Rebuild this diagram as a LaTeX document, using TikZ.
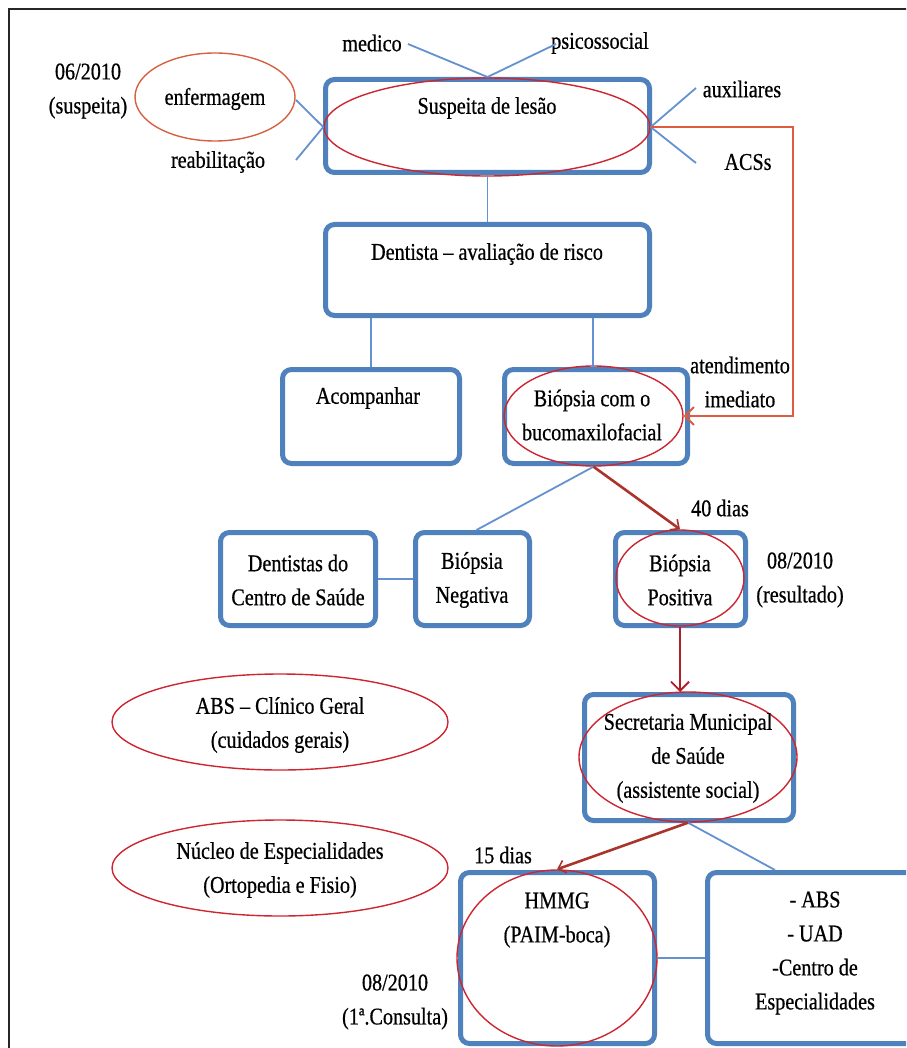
\documentclass[tikz,border=0pt]{standalone}
\usepackage{fontspec}
\setmainfont{Liberation Serif}[FakeStretch=0.84,FakeBold=0.6]
\usetikzlibrary{shapes.geometric,arrows.meta}
\definecolor{boxblue}{RGB}{79,129,189}
\definecolor{linkblue}{RGB}{100,145,208}
\definecolor{ovred}{RGB}{205,38,48}
\definecolor{ovorange}{RGB}{214,96,66}
\definecolor{loopred}{RGB}{222,92,62}
\definecolor{flowred}{RGB}{170,52,42}
\tikzset{
  stepbox/.style={draw=boxblue, line width=5pt, rounded corners=9pt, inner sep=0pt},
  oval/.style={ellipse, draw=ovred, line width=1.4pt, inner sep=0pt},
  link/.style={draw=linkblue, line width=1.8pt},
  flow/.style={draw=flowred, line width=2.6pt, -{Straight Barb[length=7pt,width=13pt,line width=1.6pt]}},
  loop/.style={draw=loopred, line width=1.8pt, -{Straight Barb[length=9pt,width=18pt,line width=1.8pt]}},
  tx/.style={align=center, inner sep=0pt, text=black, font=\fontsize{24}{34}\selectfont},
}
\begin{document}
\begin{tikzpicture}[x=1pt,y=-1pt]
\useasboundingbox (0,0) rectangle (906,1048);
\clip (0,0) rectangle (906,1048);

% outer frame (cut at the right and bottom)
\draw[black!85, line width=2.5pt] (9,1060) -- (9,9) -- (920,9);

% ---------- boxes ----------
\node[stepbox, minimum width=324pt, minimum height=93pt] (sus)   at (487.5,126) {};
\node[stepbox, minimum width=324pt, minimum height=91pt] (dent)  at (487.5,270) {};
\node[stepbox, minimum width=177pt, minimum height=94pt] (acomp) at (371,416.5) {};
\node[stepbox, minimum width=183pt, minimum height=94pt] (biop)  at (596,416.5) {};
\node[stepbox, minimum width=155pt, minimum height=93pt] (dcs)   at (298,579) {};
\node[stepbox, minimum width=114pt, minimum height=93pt] (bneg)  at (472.5,579) {};
\node[stepbox, minimum width=130pt, minimum height=93pt] (bpos)  at (680.5,579) {};
\node[stepbox, minimum width=209pt, minimum height=126pt] (sec)  at (689,757.5) {};
\node[stepbox, minimum width=194pt, minimum height=171pt] (hmmg) at (557.5,958) {};
\node[stepbox, minimum width=220pt, minimum height=171pt] (rbox) at (817.5,958) {};

% ---------- ovals ----------
\node[oval, minimum width=326pt, minimum height=98pt]  (susE)  at (487,127) {};
\node[oval, draw=ovorange, minimum width=160pt, minimum height=88pt] (enfE) at (215,97) {};
\node[oval, minimum width=179pt, minimum height=100pt] (biopE) at (593.5,416) {};
\node[oval, minimum width=128pt, minimum height=96pt]  (bposE) at (680,578) {};
\node[oval, minimum width=218pt, minimum height=130pt] (secE)  at (688,757) {};
\node[oval, minimum width=336pt, minimum height=96pt]  (absE)  at (280,722) {};
\node[oval, minimum width=336pt, minimum height=96pt]  (nucE)  at (280,868) {};
\node[oval, minimum width=200pt, minimum height=176pt] (hmmgE) at (557,958) {};

% ---------- texts ----------
\node[tx] (t0610) at (88,91) {06/2010\\(suspeita)};
\node[tx] (tenf)  at (215,99) {enfermagem};
\node[tx] (treab) at (218,162) {reabilitação};
\node[tx] (tmed)  at (372,43) {medico};
\node[tx] (tpsi)  at (600,43) {psicossocial};
\node[tx] (taux)  at (742,89) {auxiliares};
\node[tx] (tacs)  at (748,162) {ACSs};
\node[tx] (tsus)  at (487,108) {Suspeita de lesão};
\node[tx] (tdent) at (487,254) {Dentista – avaliação de risco};
\node[tx] (tacom) at (368,398) {Acompanhar};
\node[tx] (tbiop) at (592,415) {Biópsia com o\\bucomaxilofacial};
\node[tx] (tate)  at (740,382) {atendimento\\imediato};
\node[tx] (t40)   at (720,508) {40 dias};
\node[tx] (tdcs)  at (298,580) {Dentistas do\\Centro de Saúde};
\node[tx] (tneg)  at (472,580) {Biópsia\\Negativa};
\node[tx] (tpos)  at (680,580) {Biópsia\\Positiva};
\node[tx] (tres)  at (800,580) {08/2010\\(resultado)};
\node[tx] (tabs)  at (280,725) {ABS – Clínico Geral\\(cuidados gerais)};
\node[tx] (tnuc)  at (280,870) {Núcleo de Especialidades\\(Ortopedia e Fisio)};
\node[tx] (tsec)  at (688,758) {Secretaria Municipal\\de Saúde\\(assistente social)};
\node[tx] (t15)   at (503,855) {15 dias};
\node[tx] (thm)   at (557,920) {HMMG\\(PAIM-boca)};
\node[tx] (trb)   at (815,953) {- ABS\\- UAD\\-Centro de\\Especialidades};
\node[tx] (tcons) at (395,1002) {08/2010\\(1ª.Consulta)};

% ---------- connectors around the first box ----------
\coordinate (cMed) at (408,44);
\coordinate (cPsi) at (556,44);
\coordinate (cEnf) at (296,100);
\coordinate (cReab) at (296,160);
\coordinate (cAux) at (696,88);
\coordinate (cAcs) at (696,163);
\draw[link] (cMed) -- (sus.north);
\draw[link] (cPsi) -- (sus.north);
\draw[link] (cEnf) -- (susE.west);
\draw[link] (cReab) -- (susE.west);
\draw[link] (cAux) -- (susE.east);
\draw[link] (cAcs) -- (susE.east);

% ---------- tree links ----------
\draw[link] (sus.south) -- (dent.north);
\draw[link] (acomp.north |- dent.south) -- (acomp.north);
\draw[link] ([xshift=-3pt]biop.north |- dent.south) -- ([xshift=-3pt]biop.north);
\draw[link] (biopE.south) -- ([xshift=4pt]bneg.north);
\draw[link] (dcs.east) -- (bneg.west);
\draw[link] (secE.south) -- ([xshift=70pt]rbox.north west);
\draw[link] (hmmg.east) -- (rbox.west);

% ---------- flow arrows ----------
\coordinate (cTurn) at (793,127);
\draw[loop] (susE.east) -- (cTurn) |- (biopE.east);
\draw[flow] (biopE.south) -- (bposE.north);
\draw[loop, draw=ovred!85!black] (bposE.south) -- (bposE.south |- sec.north);
\draw[flow] (secE.south) -- (hmmgE.north);
\end{tikzpicture}
\end{document}
